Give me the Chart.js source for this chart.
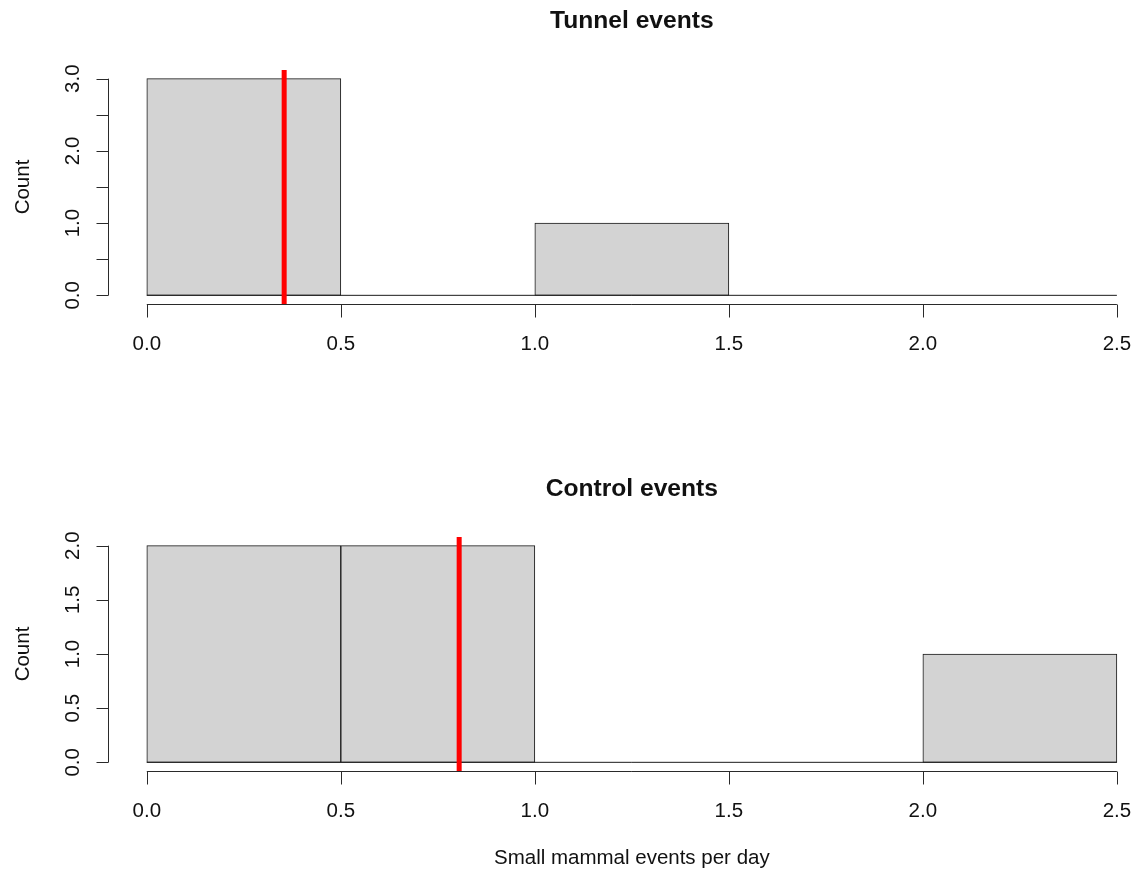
<!DOCTYPE html>
<html>
<head>
<meta charset="utf-8">
<script src="https://cdn.jsdelivr.net/npm/chart.js@4.4.1/dist/chart.umd.min.js"></script>
<style>
  body { margin: 0; background: #fff; overflow: hidden; }
  canvas { position: absolute; left: 0; }
  #tunnel { top: 0; }
  #control { top: 438px; }
</style>
</head>
<body>
<canvas id="tunnel" width="1139" height="438"></canvas>
<canvas id="control" width="1139" height="438"></canvas>
<script>
// histogram bins (midpoints) and counts
const binMids = [0.25, 0.75, 1.25, 1.75, 2.25];
const tunnelCounts = [3, 0, 1, 0, 0];
const controlCounts = [2, 2, 0, 0, 1];

// red reference lines (mean events per day)
const tunnelMean = 0.354;
const controlMean = 0.805;

// tick values and labels
const xTicks = [0, 0.5, 1.0, 1.5, 2.0, 2.5];
const xTickLabels = ['0.0', '0.5', '1.0', '1.5', '2.0', '2.5'];
const tunnelYTicks = [0, 0.5, 1.0, 1.5, 2.0, 2.5, 3.0];
const tunnelYLabels = ['0.0', '', '1.0', '', '2.0', '', '3.0'];
const controlYTicks = [0, 0.5, 1.0, 1.5, 2.0];
const controlYLabels = ['0.0', '0.5', '1.0', '1.5', '2.0'];

const FONT = '"Liberation Sans", Arial, sans-serif';
const INK = '#111';
const AXIS = '#2a2a2a';

// R-style axes, titles and labels drawn from the chart's own scales
const rAxes = {
  id: 'rAxes',
  afterDraw(chart, args, opts) {
    const { ctx, chartArea: a } = chart;
    const xs = chart.scales.x, ys = chart.scales.y;
    ctx.save();
    ctx.strokeStyle = AXIS;
    ctx.lineWidth = 1;
    ctx.fillStyle = INK;

    // x axis
    const xa = Math.round(a.bottom) + 0.5;
    const x0 = xs.getPixelForValue(xTicks[0]), x1 = xs.getPixelForValue(xTicks[xTicks.length - 1]);
    ctx.beginPath();
    ctx.moveTo(x0, xa); ctx.lineTo(x1, xa);
    xTicks.forEach(v => {
      const px = Math.round(xs.getPixelForValue(v)) + 0.5;
      ctx.moveTo(px, xa); ctx.lineTo(px, xa + 13);
    });
    ctx.stroke();
    ctx.font = '20.5px ' + FONT;
    ctx.textAlign = 'center';
    ctx.textBaseline = 'alphabetic';
    xTicks.forEach((v, i) => ctx.fillText(xTickLabels[i], xs.getPixelForValue(v), a.bottom + 46));

    // y axis
    const yx = Math.round(a.left) + 0.5;
    const yt = opts.yTicks;
    ctx.beginPath();
    ctx.moveTo(yx, ys.getPixelForValue(yt[0])); ctx.lineTo(yx, ys.getPixelForValue(yt[yt.length - 1]));
    yt.forEach(v => {
      const py = Math.round(ys.getPixelForValue(v)) + 0.5;
      ctx.moveTo(yx, py); ctx.lineTo(yx - 12, py);
    });
    ctx.stroke();
    yt.forEach((v, i) => {
      if (!opts.yLabels[i]) return;
      ctx.save();
      ctx.translate(79, ys.getPixelForValue(v));
      ctx.rotate(-Math.PI / 2);
      ctx.fillText(opts.yLabels[i], 0, 0);
      ctx.restore();
    });

    // "Count"
    ctx.save();
    ctx.translate(29, (a.top + a.bottom) / 2);
    ctx.rotate(-Math.PI / 2);
    ctx.fillText('Count', 0, 0);
    ctx.restore();

    // centre of the full R plot region
    const cx = xs.getPixelForValue(1.25);
    if (opts.xTitle) ctx.fillText(opts.xTitle, cx, a.bottom + 93);

    ctx.font = 'bold 24.6px ' + FONT;
    ctx.fillText(opts.title, cx, a.top - opts.titleGap);
    ctx.restore();
  }
};

function makePanel(id, counts, mean, yMin, yMax, pad, axisOpts) {
  return new Chart(document.getElementById(id), {
    type: 'bar',
    data: {
      datasets: [
        {
          type: 'line',
          order: 0,
          data: [{ x: mean, y: yMin }, { x: mean, y: yMax }],
          borderColor: '#ff0000',
          borderWidth: 5,
          borderCapStyle: 'butt',
          pointRadius: 0,
          clip: false
        },
        {
          type: 'line',
          order: 1,
          data: [{ x: xTicks[0], y: 0 }, { x: xTicks[xTicks.length - 1], y: 0 }],
          borderColor: '#1a1a1a',
          borderWidth: 1,
          pointRadius: 0
        },
        {
          type: 'bar',
          order: 2,
          data: binMids.map((m, i) => ({ x: m, y: counts[i] })),
          backgroundColor: '#d3d3d3',
          borderColor: '#1a1a1a',
          borderWidth: 1,
          borderSkipped: false,
          barPercentage: 1,
          categoryPercentage: 1
        }
      ]
    },
    options: {
      responsive: false,
      animation: false,
      devicePixelRatio: 1,
      layout: { padding: pad },
      plugins: {
        legend: { display: false },
        tooltip: { enabled: false },
        rAxes: axisOpts
      },
      scales: {
        x: { type: 'linear', min: -0.1, max: 2.557, offset: false, display: false },
        y: { type: 'linear', min: yMin, max: yMax, display: false }
      }
    },
    plugins: [rAxes]
  });
}

makePanel('tunnel', tunnelCounts, tunnelMean, -0.12, 3.12,
  { left: 108, right: 0, top: 70, bottom: 134 },
  { yTicks: tunnelYTicks, yLabels: tunnelYLabels, title: 'Tunnel events', titleGap: 42.5 });

makePanel('control', controlCounts, controlMean, -0.08, 2.08,
  { left: 108, right: 0, top: 99, bottom: 105 },
  { yTicks: controlYTicks, yLabels: controlYLabels, title: 'Control events', titleGap: 41,
    xTitle: 'Small mammal events per day' });
</script>
</body>
</html>
